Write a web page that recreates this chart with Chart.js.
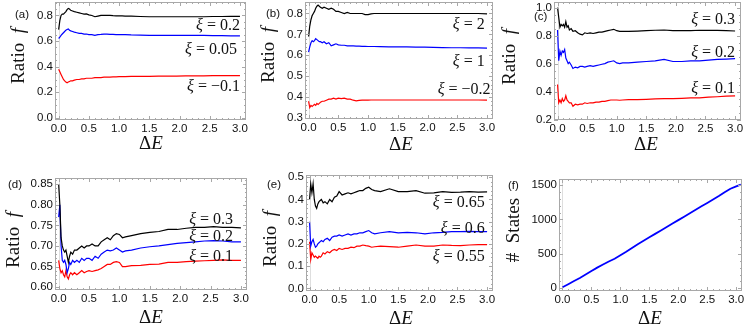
<!DOCTYPE html>
<html><head><meta charset="utf-8">
<script src="https://cdn.jsdelivr.net/npm/chart.js@4/dist/chart.umd.min.js"></script>
<style>
html,body{margin:0;padding:0;background:#fff;}
#wrap{position:relative;width:747px;height:333px;overflow:hidden;background:#fff;}
canvas{position:absolute;left:0;top:0;}
</style></head><body><div id="wrap"></div>
<script>
// ---------- DATA ----------
const E = [0.00,0.02,0.04,0.06,0.08,0.10,0.12,0.14,0.16,0.18,0.20,
           0.23,0.26,0.30,0.34,0.38,0.42,0.46,0.50,
           0.55,0.60,0.65,0.70,0.75,0.80,0.85,0.90,0.95,1.00,1.05,1.10,
           1.20,1.35,1.50,1.65,1.80,1.95,2.10,2.25,2.40,2.55,2.70,2.85,3.00];

// (a)
const A_XI = ['0.2','0.05','\u22120.1'];
const A_BLACK = [0.69,0.76,0.80,0.81,0.81,0.82,0.83,0.845,0.855,0.85,0.84,
  0.835,0.83,0.825,0.82,0.815,0.81,0.812,0.805,
  0.80,0.79,0.795,0.80,0.80,0.80,0.80,0.798,0.797,0.797,0.796,0.795,
  0.795,0.792,0.79,0.79,0.79,0.79,0.79,0.79,0.79,0.792,0.792,0.793,0.793];
const A_BLUE = [0.62,0.63,0.645,0.655,0.665,0.675,0.685,0.69,0.695,0.685,0.68,
  0.675,0.67,0.665,0.66,0.66,0.655,0.655,0.65,
  0.65,0.645,0.65,0.652,0.655,0.655,0.653,0.652,0.651,0.65,0.65,0.65,
  0.648,0.647,0.645,0.645,0.645,0.645,0.645,0.645,0.644,0.643,0.642,0.641,0.64];
const A_RED = [0.38,0.36,0.34,0.32,0.30,0.29,0.28,0.275,0.28,0.285,0.29,
  0.29,0.295,0.30,0.30,0.305,0.305,0.31,0.31,
  0.31,0.315,0.315,0.315,0.318,0.318,0.319,0.32,0.321,0.322,0.322,0.322,
  0.324,0.325,0.325,0.326,0.327,0.327,0.328,0.328,0.329,0.33,0.33,0.33,0.33];

// (b)
const B_XI = ['2','1','\u22120.2'];
const B_BLACK = [0.69,0.74,0.77,0.79,0.80,0.81,0.825,0.835,0.84,0.835,0.83,
  0.825,0.83,0.825,0.82,0.825,0.82,0.81,0.81,
  0.805,0.80,0.805,0.80,0.80,0.80,0.80,0.80,0.795,0.795,0.798,0.80,
  0.80,0.80,0.80,0.80,0.80,0.80,0.80,0.80,0.80,0.80,0.80,0.80,0.798];
const B_BLUE = [0.615,0.64,0.66,0.67,0.665,0.67,0.68,0.675,0.67,0.665,0.665,
  0.66,0.665,0.655,0.66,0.645,0.65,0.655,0.65,
  0.648,0.648,0.645,0.645,0.645,0.644,0.644,0.643,0.643,0.642,0.642,0.642,
  0.641,0.64,0.64,0.64,0.639,0.639,0.638,0.637,0.636,0.636,0.635,0.635,0.634];
const B_RED = [0.38,0.35,0.36,0.355,0.36,0.365,0.36,0.37,0.365,0.37,0.375,
  0.38,0.38,0.385,0.39,0.39,0.395,0.39,0.395,
  0.393,0.395,0.39,0.39,0.385,0.382,0.384,0.385,0.385,0.385,0.386,0.386,
  0.386,0.386,0.386,0.386,0.386,0.386,0.386,0.386,0.386,0.386,0.386,0.386,0.385];

// (c)
const C_XI = ['0.3','0.2','0.1'];
const C_BLACK = [1.0,0.93,0.86,0.88,0.87,0.88,0.86,0.90,0.86,0.87,0.84,
  0.85,0.83,0.835,0.82,0.81,0.805,0.82,0.815,
  0.82,0.815,0.82,0.825,0.825,0.83,0.835,0.84,0.845,0.835,0.83,0.83,
  0.83,0.832,0.835,0.838,0.84,0.835,0.835,0.836,0.838,0.838,0.837,0.835,0.833];
const C_BLUE = [0.84,0.62,0.69,0.66,0.69,0.68,0.70,0.64,0.62,0.60,0.61,
  0.59,0.565,0.575,0.57,0.58,0.58,0.575,0.58,
  0.585,0.58,0.585,0.59,0.595,0.60,0.61,0.615,0.62,0.605,0.60,0.605,
  0.605,0.61,0.615,0.62,0.63,0.615,0.615,0.62,0.62,0.625,0.63,0.632,0.635];
const C_RED = [0.45,0.32,0.34,0.32,0.35,0.33,0.34,0.37,0.34,0.33,0.32,
  0.32,0.295,0.31,0.305,0.31,0.31,0.32,0.315,
  0.32,0.32,0.325,0.325,0.33,0.33,0.335,0.34,0.34,0.34,0.338,0.34,
  0.342,0.343,0.345,0.348,0.35,0.35,0.352,0.355,0.355,0.36,0.363,0.367,0.37];

// (d)
const D_XI = ['0.3','0.2','0.1'];
const D_BLACK = [0.85,0.80,0.72,0.70,0.69,0.685,0.69,0.675,0.66,0.675,0.685,
  0.68,0.69,0.69,0.695,0.70,0.695,0.70,0.70,
  0.705,0.70,0.70,0.71,0.715,0.72,0.715,0.725,0.73,0.728,0.72,0.722,
  0.725,0.73,0.733,0.735,0.74,0.74,0.743,0.745,0.745,0.747,0.745,0.745,0.744];
const D_BLUE = [0.77,0.80,0.70,0.665,0.66,0.665,0.655,0.635,0.645,0.66,0.655,
  0.665,0.66,0.665,0.66,0.67,0.665,0.67,0.67,
  0.665,0.675,0.67,0.68,0.685,0.69,0.688,0.69,0.695,0.69,0.685,0.688,
  0.69,0.695,0.698,0.70,0.703,0.706,0.708,0.71,0.712,0.713,0.712,0.71,0.71];
const D_RED = [0.665,0.645,0.635,0.64,0.63,0.625,0.64,0.625,0.62,0.63,0.635,
  0.63,0.635,0.63,0.635,0.64,0.635,0.638,0.64,
  0.638,0.64,0.642,0.645,0.65,0.655,0.655,0.66,0.662,0.66,0.65,0.65,
  0.652,0.653,0.655,0.656,0.66,0.66,0.662,0.663,0.664,0.665,0.666,0.665,0.665];

// (e)
const E_XI = ['0.65','0.6','0.55'];
const E_BLACK = [0.40,0.47,0.43,0.47,0.40,0.37,0.36,0.38,0.39,0.395,0.40,
  0.385,0.39,0.38,0.40,0.39,0.41,0.415,0.435,
  0.42,0.425,0.43,0.425,0.43,0.435,0.44,0.44,0.45,0.455,0.445,0.44,
  0.435,0.448,0.435,0.435,0.44,0.428,0.43,0.435,0.432,0.433,0.435,0.433,0.434];
const E_BLUE = [0.30,0.19,0.21,0.22,0.20,0.185,0.19,0.20,0.205,0.21,0.215,
  0.21,0.22,0.225,0.215,0.23,0.235,0.235,0.24,
  0.235,0.24,0.245,0.24,0.245,0.245,0.25,0.25,0.255,0.26,0.25,0.245,
  0.25,0.255,0.25,0.252,0.25,0.245,0.25,0.252,0.255,0.255,0.256,0.255,0.255];
const E_RED = [0.21,0.13,0.16,0.15,0.14,0.145,0.14,0.135,0.145,0.14,0.145,
  0.16,0.155,0.165,0.16,0.17,0.175,0.17,0.18,
  0.175,0.18,0.18,0.185,0.183,0.19,0.19,0.195,0.192,0.19,0.185,0.187,
  0.19,0.188,0.185,0.19,0.195,0.19,0.19,0.195,0.193,0.192,0.195,0.197,0.197];

// (f)
const F_E = [0.0,0.1,0.2,0.3,0.4,0.5,0.6,0.7,0.8,0.9,1.0,1.1,1.2,1.3,1.4,1.5,
             1.6,1.7,1.8,1.9,2.0,2.1,2.2,2.3,2.4,2.5,2.6,2.7,2.8,2.9,3.0,3.08];
const F_STATES = [15,60,105,150,200,250,300,345,390,430,480,530,585,640,690,740,
                  790,840,890,940,990,1040,1090,1140,1190,1240,1290,1340,1395,1445,1480,1505];

// tick values
const X_TICKS = [0,0.5,1,1.5,2,2.5,3];
const A_YTICKS = [0,0.2,0.4,0.6,0.8];
const B_YTICKS = [0.3,0.4,0.5,0.6,0.7,0.8];
const C_YTICKS = [0.2,0.4,0.6,0.8,1.0];
const D_YTICKS = [0.60,0.65,0.70,0.75,0.80,0.85];
const E_YTICKS = [0,0.1,0.2,0.3,0.4,0.5];
const F_YTICKS = [0,500,1000,1500];

// ---------- STYLE / LAYOUT ----------
const BLACK='#000000', BLUE='#0000ff', RED='#ff0000';
const SERIF='"Liberation Serif","Times New Roman",serif';
const SANS='"Liberation Sans",Arial,Helvetica,sans-serif';
const TICKFONT=11.5, FRAME='#a8a8a8';
Chart.defaults.font.family = SANS;

const wrap = document.getElementById('wrap');
function pts(xs, ys){ return xs.map((x,i)=>({x:x, y:ys[i]})); }

function drawRuns(ctx, runs, x, y, align, rot){
  ctx.save();
  ctx.translate(x,y);
  if (rot) ctx.rotate(rot);
  let w=0;
  runs.forEach(r=>{ ctx.font=r.f; w+=ctx.measureText(r.t).width; });
  let cx = align==='right' ? -w : (align==='center' ? -w/2 : 0);
  ctx.textBaseline='middle'; ctx.textAlign='left'; ctx.fillStyle='#111';
  runs.forEach(r=>{ ctx.font=r.f; ctx.fillText(r.t,cx,0); cx+=ctx.measureText(r.t).width; });
  ctx.restore();
}
const ser = s => s+'px '+SERIF;
const iser = s => 'italic '+s+'px '+SERIF;

function makePanel(p){
  const cv=document.createElement('canvas'); cv.width=747; cv.height=333; wrap.appendChild(cv);
  const YW=40, XH=22;
  const [L,T,R,B]=p.box;
  const deco={ id:'deco',
    beforeDatasetsDraw(chart){
      const {ctx,chartArea:a,scales:{x}}=chart;
      const x0=Math.round(x.getPixelForValue(0))+0.5;
      ctx.save(); ctx.strokeStyle='#dedede'; ctx.lineWidth=1;
      ctx.beginPath(); ctx.moveTo(x0,a.top); ctx.lineTo(x0,a.bottom); ctx.stroke();
      ctx.restore();
    },
    afterDraw(chart){
      const {ctx,chartArea:a,scales:{x,y}}=chart;
      ctx.save();
      ctx.strokeStyle=FRAME; ctx.lineWidth=1;
      ctx.strokeRect(a.left+0.5,a.top+0.5,a.right-a.left-1,a.bottom-a.top-1);
      ctx.beginPath();
      for(let v=0; v<=3.0001; v+=0.1){
        const px=Math.round(x.getPixelForValue(v))+0.5;
        const major=Math.abs(v*2-Math.round(v*2))<1e-6;
        const len=major?4:2;
        ctx.moveTo(px,a.bottom); ctx.lineTo(px,a.bottom-len);
        ctx.moveTo(px,a.top); ctx.lineTo(px,a.top+len);
      }
      const yt=p.yticks, step=(yt[1]-yt[0])/p.ysub;
      for(let v=yt[0]-step*p.ysub; v<=y.max+1e-9; v+=step){
        if(v<y.min-1e-9) continue;
        const k=Math.round((v-yt[0])/step);
        const major=(k%p.ysub)===0;
        const py=Math.round(y.getPixelForValue(v))+0.5;
        const len=major?4:2;
        ctx.moveTo(a.left,py); ctx.lineTo(a.left+len,py);
        ctx.moveTo(a.right,py); ctx.lineTo(a.right-len,py);
      }
      ctx.stroke();
      ctx.restore();
      p.notes.forEach(n=>{
        drawRuns(ctx,[{t:'\u03be',f:iser(16)},{t:' = '+n.t,f:ser(16)}],
          x.getPixelForValue(n.x), y.getPixelForValue(n.y), 'right', 0);
      });
      drawRuns(ctx,[{t:'\u0394',f:ser(19)},{t:'E',f:iser(19)}],p.xt[0],p.xt[1],'center',0);
      drawRuns(ctx,p.ytitle,p.yt[0],p.yt[1],'center',-Math.PI/2);
      ctx.save(); ctx.font=TICKFONT+'px '+SANS; ctx.fillStyle='#111';
      ctx.textBaseline='middle'; ctx.textAlign='left';
      ctx.fillText(p.name,p.pl[0],p.pl[1]); ctx.restore();
    }
  };
  new Chart(cv,{
    type:'line',
    data:{datasets:p.series.map(s=>({data:pts(s.x,s.y),borderColor:s.c,borderWidth:s.w||1.2,
      pointRadius:0,tension:0,fill:false}))},
    options:{
      responsive:false, animation:false, devicePixelRatio:1,
      layout:{padding:{left:L-YW, top:T, right:747-R, bottom:333-B-XH}},
      plugins:{legend:{display:false}, tooltip:{enabled:false}},
      scales:{
        x:{type:'linear', min:p.xr[0], max:p.xr[1],
           grid:{display:false, drawTicks:false}, border:{display:false},
           afterBuildTicks:s=>{ s.ticks=X_TICKS.map(v=>({value:v})); },
           afterFit:s=>{ s.height=XH; s.paddingLeft=0; s.paddingRight=0; },
           ticks:{padding:2, autoSkip:false, maxRotation:0, color:'#111',
                  font:{family:SANS,size:TICKFONT}, callback:v=>Number(v).toFixed(1)}},
        y:{type:'linear', min:p.yr[0], max:p.yr[1],
           grid:{display:false, drawTicks:false}, border:{display:false},
           afterBuildTicks:s=>{ s.ticks=p.yticks.map(v=>({value:v})); },
           afterFit:s=>{ s.width=YW; s.paddingTop=0; s.paddingBottom=0; },
           ticks:{padding:2, autoSkip:false, color:'#111',
                  font:{family:SANS,size:TICKFONT}, callback:v=>Number(v).toFixed(p.yd)}}
      }
    },
    plugins:[deco]
  });
}

const RATIO=[{t:'Ratio\u2002',f:ser(19)},{t:'f',f:iser(19)}];
const XR=[-0.06,3.1];

makePanel({name:'(a)', box:[55,2,246,120], xr:XR, yr:[-0.016,0.905], yticks:A_YTICKS, yd:1, ysub:4,
  series:[{x:E,y:A_BLACK,c:BLACK},{x:E,y:A_BLUE,c:BLUE},{x:E,y:A_RED,c:RED}],
  notes:[{t:A_XI[0],x:3.0,y:0.72},{t:A_XI[1],x:2.95,y:0.535},{t:A_XI[2],x:3.0,y:0.245}],
  xt:[151,144], yt:[19,56], ytitle:RATIO, pl:[15,15]});

makePanel({name:'(b)', box:[305,2,493,119], xr:XR, yr:[0.295,0.855], yticks:B_YTICKS, yd:1, ysub:5,
  series:[{x:E,y:B_BLACK,c:BLACK},{x:E,y:B_BLUE,c:BLUE},{x:E,y:B_RED,c:RED}],
  notes:[{t:B_XI[0],x:2.96,y:0.744},{t:B_XI[1],x:2.96,y:0.57},{t:B_XI[2],x:3.06,y:0.435}],
  xt:[401,145], yt:[269,55], ytitle:RATIO, pl:[266,14]});

makePanel({name:'(c)', box:[554,2,741,120], xr:XR, yr:[0.197,1.04], yticks:C_YTICKS, yd:1, ysub:4,
  series:[{x:E,y:C_BLACK,c:BLACK},{x:E,y:C_BLUE,c:BLUE},{x:E,y:C_RED,c:RED}],
  notes:[{t:C_XI[0],x:3.0,y:0.91},{t:C_XI[1],x:3.0,y:0.675},{t:C_XI[2],x:3.0,y:0.42}],
  xt:[646,145], yt:[510,57], ytitle:RATIO, pl:[534,17]});

makePanel({name:'(d)', box:[55,178,247,290], xr:XR, yr:[0.593,0.865], yticks:D_YTICKS, yd:2, ysub:5,
  series:[{x:E,y:D_BLACK,c:BLACK},{x:E,y:D_BLUE,c:BLUE},{x:E,y:D_RED,c:RED}],
  notes:[{t:D_XI[0],x:2.87,y:0.763},{t:D_XI[1],x:2.87,y:0.722},{t:D_XI[2],x:2.87,y:0.674}],
  xt:[151,318], yt:[14,240], ytitle:RATIO, pl:[8,185]});

makePanel({name:'(e)', box:[306,175,493,291], xr:XR, yr:[-0.012,0.51], yticks:E_YTICKS, yd:1, ysub:5,
  series:[{x:E,y:E_BLACK,c:BLACK},{x:E,y:E_BLUE,c:BLUE},{x:E,y:E_RED,c:RED}],
  notes:[{t:E_XI[0],x:2.96,y:0.383},{t:E_XI[1],x:2.96,y:0.27},{t:E_XI[2],x:2.96,y:0.142}],
  xt:[401,319], yt:[271,239], ytitle:RATIO, pl:[267,185]});

makePanel({name:'(f)', box:[559,179,742,291], xr:XR, yr:[-39,1587], yticks:F_YTICKS, yd:0, ysub:5,
  series:[{x:F_E,y:F_STATES,c:BLUE,w:1.8}],
  notes:[],
  xt:[650,319], yt:[514,230], ytitle:[{t:'#\u2002States',f:ser(19)}], pl:[508,186]});
</script>
</body></html>
